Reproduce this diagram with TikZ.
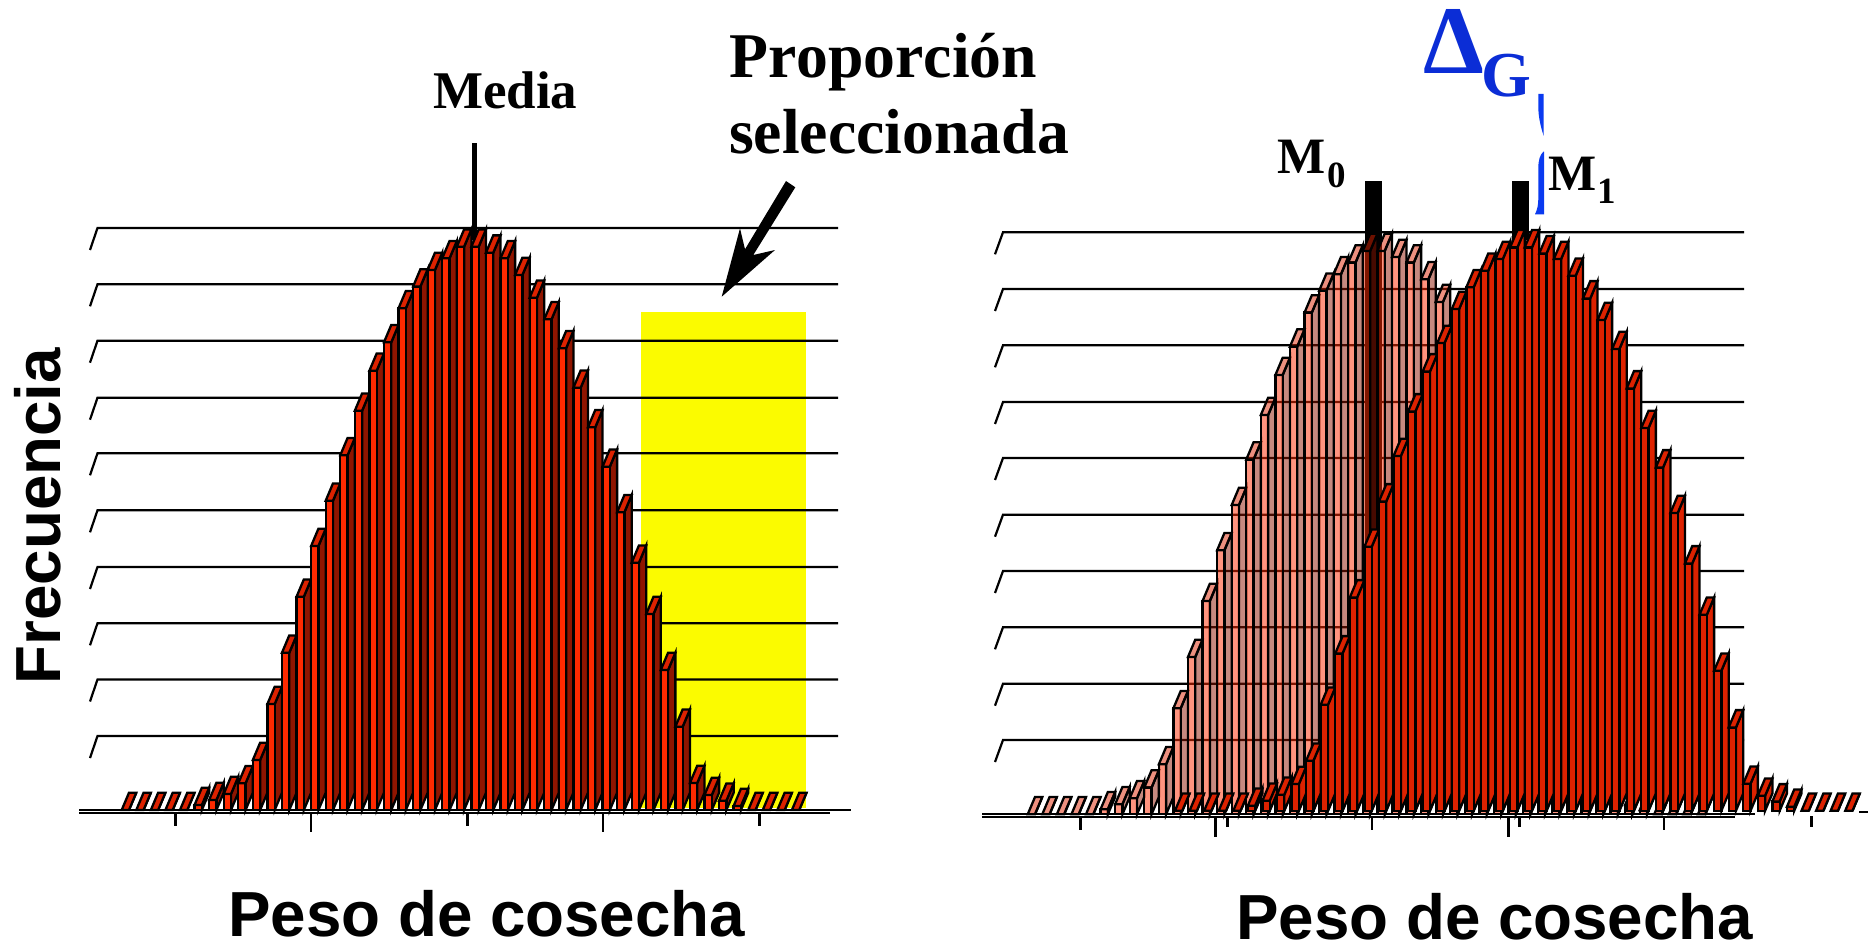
\documentclass[tikz,border=0pt]{standalone}
\usepackage{fontspec}
\setmainfont{Liberation Serif}
\newfontfamily\sansbold{Liberation Sans}[BoldFont=* Bold]
\definecolor{frontred}{HTML}{FF2A00}
\definecolor{sidered}{HTML}{8F1500}
\definecolor{topred}{HTML}{DD2200}
\definecolor{solidred}{HTML}{DD2200}
\definecolor{markyellow}{HTML}{FBFB00}
\definecolor{deltablue}{HTML}{0B2DD6}
\definecolor{bracketblue}{HTML}{0A3AF0}
\def\profile{0/810,1/810,2/810,3/810,4/810,5/805,6/800,7/794,8/783.3,9/760,10/704,11/652.7,12/596.7,13/546,14/500.7,15/455.3,16/410.7,17/370.7,18/342.3,19/308.3,20/286.5,21/270,22/258.3,23/246.7,24/246.7,25/252.7,26/258.3,27/275,28/297.7,29/319.3,30/348.3,31/387.7,32/427.3,33/466.7,34/512.3,35/562.7,36/614,37/670,38/726.7,39/783,40/795,41/800.7,42/806,43/810,44/810,45/810,46/810}
% #1 x of first bar, #2 y offset, #3 front, #4 side, #5 top, #6 fill opacity
\newcommand\histo[6]{%
  \foreach \n/\tp in \profile {%
    \pgfmathsetmacro\xa{#1+14.57*\n}%
    \pgfmathsetmacro\xb{\xa+7.3}%
    \pgfmathsetmacro\xc{\xa+14.6}%
    \pgfmathsetmacro\ya{\tp+#2}%
    \pgfmathsetmacro\yb{\ya-17.3}%
    \pgfmathsetmacro\yo{810+#2}%
    \pgfmathsetmacro\yp{\yo-17.3}%
    \draw[barline,fill=#4,fill opacity=#6] (\xb,\ya) -- (\xc,\yb) -- (\xc,\yp) -- (\xb,\yo) -- cycle;
    \draw[barline,fill=#3,fill opacity=#6] (\xa,\ya) rectangle (\xb,\yo);
    \draw[barline,fill=#5,fill opacity=#6] (\xa,\ya) -- (\xc-7.3,\yb-0) -- (\xc,\yb) -- (\xb,\ya) -- cycle;
  }%
}
\tikzset{
  barline/.style={draw=black,line width=2.3pt,line join=miter,draw opacity=1},
  gridline/.style={draw=black,line width=2.2pt,line join=miter},
  axisline/.style={draw=black,line width=2.2pt},
  tickline/.style={draw=black,line width=2.5pt},
  seriflabel/.style={anchor=base west,inner sep=0pt,font=\bfseries},
  sanslabel/.style={anchor=base west,inner sep=0pt,font=\sansbold\bfseries\fontsize{63.7}{64}\selectfont}
}
\begin{document}
\begin{tikzpicture}[x=1pt,y=-1pt]
\fill[white] (0,0) rectangle (1874,944);
\useasboundingbox (0,0) rectangle (1874,944);
% left chart
\fill[markyellow] (641,312) rectangle (805.7,808);
\foreach \gy in {228,284.3,340.7,397.7,453.3,510.3,567,623.3,679.5,736}
  \draw[gridline] (90,\gy+22) -- (97.5,\gy) -- (838,\gy);
\fill[black] (472,143) rectangle (477,240);
\histo{121.7}{0}{frontred}{sidered}{topred}{1}
\draw[axisline] (79,810) -- (851,810);
\draw[axisline] (79,812.7) -- (830,812.7);
\foreach \tx/\ty in {175.3/826,311/832,467.3/826,603/832,759.3/826}
  \draw[tickline] (\tx,812) -- (\tx,\ty);
% right chart
\foreach \gy in {232.3,289,345.3,402,458,514.7,571,627.3,683.7,740}
  \draw[gridline] (995,\gy+22) -- (1003,\gy) -- (1744,\gy);
\fill[black] (1365,181) rectangle (1382,560);
\fill[black] (1512.3,181) rectangle (1529.3,240);
\histo{1027.7}{4.3}{frontred}{sidered}{topred}{0.5}
\histo{1175}{0.7}{solidred}{solidred}{solidred}{1}
\draw[axisline] (982,814.3) -- (1755,814.3);
\draw[axisline] (982,816.8) -- (1735,816.8);
\draw[axisline] (1859,811.7) -- (1868,811.7);
\foreach \tx/\ty in {1080.3/830,1215.7/836.7,1227.7/827,1372/830,1508.3/836.7,1519.7/827,1664/830,1811.7/827}
  \draw[tickline] (\tx,816) -- (\tx,\ty);
% arrow
\fill[black] (721.7,296.7) -- (740,228.3) -- (745,249.3) -- (786,181) -- (795.3,187.3) -- (753.3,255) -- (775,250) -- cycle;
% blue bracket
\fill[bracketblue] (1538.3,94) -- (1543.7,94) -- (1543.7,136) .. controls (1540,125) and (1538.3,115) .. (1538.3,107) -- cycle;
\fill[bracketblue] (1543.3,151.7) -- (1544,151.7) -- (1544,214.3) -- (1535,214.3) .. controls (1537.5,209) and (1538.3,205) .. (1538.3,197) -- (1538.3,168) .. controls (1538.3,160) and (1540,155) .. (1543.3,151.7) -- cycle;
% texts
\node[seriflabel,font=\bfseries\fontsize{53}{54}\selectfont] (media) at (433,109) {Media};
\node[seriflabel,font=\bfseries\fontsize{63.7}{66}\selectfont\addfontfeature{Kerning=Off}] (prop) at (729,78) {Proporción};
\node[seriflabel,font=\bfseries\fontsize{63.7}{66}\selectfont] (sele) at (729,154) {seleccionada};
\node[seriflabel,font=\bfseries\fontsize{51}{54}\selectfont] (mzero) at (1277,174) {M};
\node[seriflabel,font=\bfseries\fontsize{37}{40}\selectfont] (mzerosub) at (1327,188) {0};
\node[seriflabel,font=\bfseries\fontsize{51}{54}\selectfont] (mone) at (1548,190.7) {M};
\node[seriflabel,font=\bfseries\fontsize{37}{40}\selectfont] (monesub) at (1597,203.3) {1};
\node[seriflabel,text=deltablue,font=\bfseries\fontsize{97}{100}\selectfont] (delta) at (1423,74) {Δ};
\node[seriflabel,text=deltablue,font=\bfseries\fontsize{64}{66}\selectfont] (gsub) at (1481,97) {G};
\node[sanslabel] (xleft) at (228,936) {Peso de cosecha};
\node[sanslabel] (xright) at (1236,939.5) {Peso de cosecha};
\node[sanslabel,rotate=90] (ylabel) at (60,684.5) {Frecuencia};
\end{tikzpicture}
\end{document}
